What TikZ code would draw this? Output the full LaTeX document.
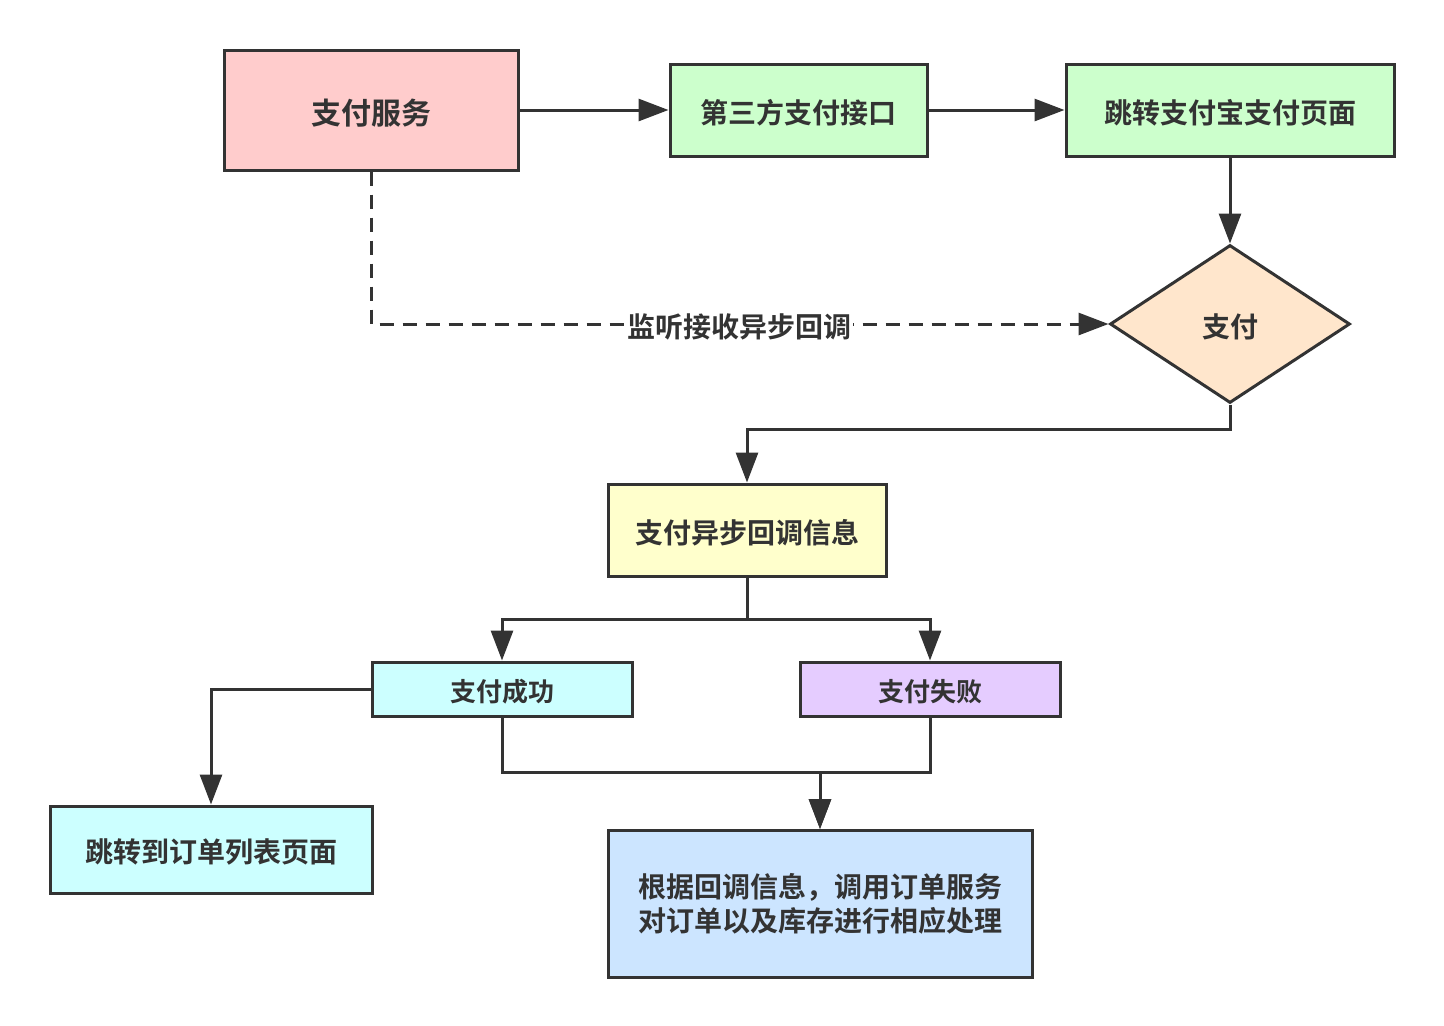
\documentclass[tikz,border=0pt]{standalone}
\usepackage{fontspec}
\setmainfont{Noto Sans CJK SC}[BoldFont={Noto Sans CJK SC Bold}]
\usetikzlibrary{shapes.geometric, arrows.meta}

\definecolor{lineGray}{HTML}{333333}
\definecolor{payPink}{HTML}{FFCCCC}
\definecolor{payGreen}{HTML}{CCFFCC}
\definecolor{payOrange}{HTML}{FFE6CC}
\definecolor{payYellow}{HTML}{FFFFCC}
\definecolor{payCyan}{HTML}{CCFFFF}
\definecolor{payPurple}{HTML}{E5CCFF}
\definecolor{payBlue}{HTML}{CCE5FF}

\begin{document}
\begin{tikzpicture}[x=1pt, y=-1pt,
    box/.style={draw=lineGray, line width=3pt, rectangle, inner sep=0pt,
        text=lineGray, font=\bfseries\fontsize{28}{34}\selectfont, align=center},
    oneline/.style={text height=26pt, text depth=0pt},
    flow/.style={draw=lineGray, line width=3pt, -{Triangle[length=30pt, width=22pt]}}]

    \useasboundingbox (0,0) rectangle (1444,1026);

    % --- Top row ---
    \node[box, oneline, fill=payPink, minimum width=294pt, minimum height=120pt,
        font=\bfseries\fontsize{30}{36}\selectfont, text height=28pt] (svc) at (371,110) {支付服务};
    \node[box, oneline, fill=payGreen, minimum width=257pt, minimum height=92pt] (api) at (798.5,110) {第三方支付接口};
    \node[box, oneline, fill=payGreen, minimum width=328pt, minimum height=92pt] (alipay) at (1230,110) {跳转支付宝支付页面};

    % --- Payment decision ---
    \node[box, oneline, diamond, fill=payOrange, minimum width=240pt, minimum height=158pt] (pay) at (1230,324) {支付};

    % --- Callback and result ---
    \node[box, oneline, fill=payYellow, minimum width=278pt, minimum height=92pt] (cb) at (747,530) {支付异步回调信息};
    \node[box, oneline, fill=payCyan, minimum width=260pt, minimum height=54pt,
        font=\bfseries\fontsize{26}{32}\selectfont, text height=24pt] (ok) at (502,689) {支付成功};
    \node[box, oneline, fill=payPurple, minimum width=260pt, minimum height=54pt,
        font=\bfseries\fontsize{26}{32}\selectfont, text height=24pt] (fail) at (930,689) {支付失败};
    \node[box, oneline, fill=payCyan, minimum width=322pt, minimum height=87pt] (list) at (211,849.5) {跳转到订单列表页面};
    \node[box, fill=payBlue, minimum width=424pt, minimum height=147pt] (deal) at (820,904)
        {根据回调信息，调用订单服务\\对订单以及库存进行相应处理};

    % --- Connectors ---
    \draw[flow] (svc) -- (api);
    \draw[flow] (api) -- (alipay);
    \draw[flow] (alipay) -- (pay);
    \draw[flow, dash pattern=on 14pt off 9pt] (svc.south) |-
        node[pos=0.75, fill=white, inner sep=1pt, text=lineGray, oneline,
            font=\bfseries\fontsize{28}{34}\selectfont] (listen) {监听接收异步回调} (pay.west);
    \draw[flow] (pay.south) -- ++(0,25) -| (cb.north);
    \draw[flow] (cb.south) -- ++(0,42) -| (ok.north);
    \draw[flow] (cb.south) -- ++(0,42) -| (fail.north);
    \draw[flow] (ok.west) -| (list.north);
    \draw[flow] (ok.south) -- ++(0,55) -| (deal.north);
    \draw[flow] (fail.south) -- ++(0,55) -| (deal.north);

\end{tikzpicture}
\end{document}
